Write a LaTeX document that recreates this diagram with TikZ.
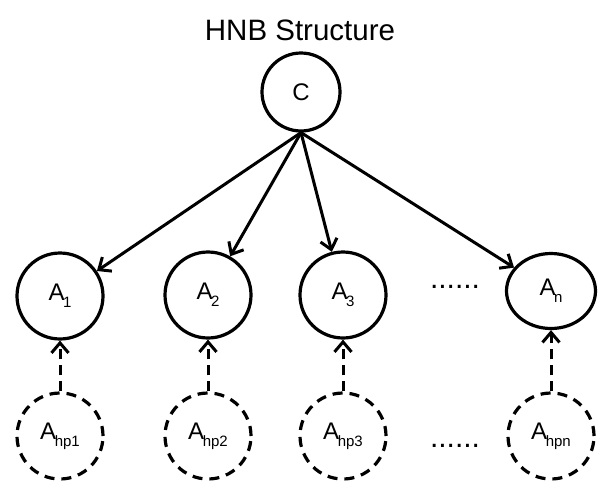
\documentclass[tikz,border=0pt]{standalone}
\usepackage{fontspec}
\setmainfont{Liberation Sans}
\usetikzlibrary{arrows.meta,shapes.geometric}
\newcommand{\sbs}[1]{\kern-0.06em\raisebox{-0.3em}{\fontsize{15}{15}\selectfont #1}}
\tikzset{
  var/.style={circle, draw, line width=3.2pt, minimum size=86pt, inner sep=0pt,
              font=\fontsize{24}{24}\selectfont},
  hidden/.style={var, dash pattern=on 10pt off 7pt},
  edge/.style={line width=3pt, -{Straight Barb[length=10pt,width=17pt,line width=3pt]}},
  dedge/.style={edge, dash pattern=on 10pt off 6pt},
  dots/.style={font=\fontsize{30}{30}\selectfont, inner sep=0pt},
}
\begin{document}
\begin{tikzpicture}[x=1pt,y=-1pt]
  \useasboundingbox (0,0) rectangle (601,482);
  \node[font=\fontsize{29.5}{29.5}\selectfont] (title) at (300,30) {HNB Structure};

  % class node
  \node[var, minimum size=78pt] (C) at (301,92) {C};

  % attribute nodes
  \node[var] (A1) at (60,296) {A\sbs{1}};
  \node[var] (A2) at (208,295) {A\sbs{2}};
  \node[var] (A3) at (343,295) {A\sbs{3}};
  \node[var, ellipse, minimum width=89pt, minimum height=75pt] (An) at (551,291) {A\sbs{n}};

  % hidden parent nodes
  \node[hidden] (H1) at (60,436) {A\sbs{hp1}};
  \node[hidden] (H2) at (208,436) {A\sbs{hp2}};
  \node[hidden] (H3) at (343,436) {A\sbs{hp3}};
  \node[hidden] (Hn) at (551,436) {A\sbs{hpn}};

  % ellipsis marks
  \node[dots] (d1) at (455,287) {......};
  \node[dots] (d2) at (455,446) {......};

  % edges from the class node
  \foreach \t in {A1,A2,A3,An} \draw[edge] (C.south) -- (\t);

  % edges from hidden parents
  \draw[dedge] (H1) -- (A1);
  \draw[dedge] (H2) -- (A2);
  \draw[dedge] (H3) -- (A3);
  \draw[dedge] (Hn) -- (An);
\end{tikzpicture}
\end{document}
